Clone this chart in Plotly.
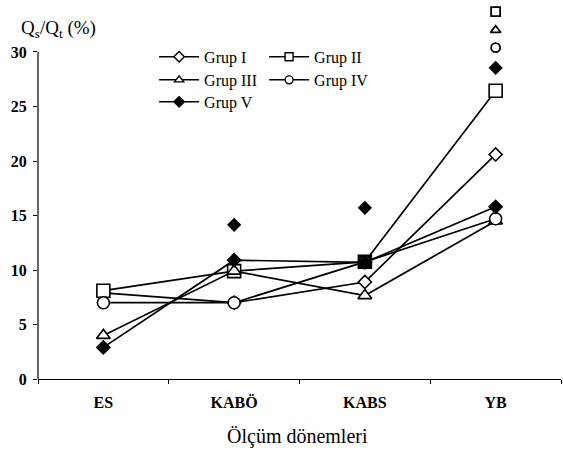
import plotly.graph_objects as go

categories = ["ES", "KABÖ", "KABS", "YB"]
grup_names = ["Grup I", "Grup II", "Grup III", "Grup IV", "Grup V"]
grup1 = [7.9, 7.0, 8.9, 20.6]
grup2 = [8.1, 9.9, 10.75, 26.45]
grup3 = [4.0, 9.9, 7.65, 14.5]
grup4 = [7.0, 7.0, 10.75, 14.7]
grup5 = [2.9, 10.9, 10.7, 15.8]

# separate (unconnected) markers
extra_cats_v = ["KABÖ", "KABS", "YB"]
extra_vals_v = [14.15, 15.7, 28.55]
extra_yb_sq = [33.7]
extra_yb_tri = [32.0]
extra_yb_circ = [30.4]
y_ticks = [0, 5, 10, 15, 20, 25, 30]

FONT = "Liberation Serif"
series = [grup1, grup2, grup3, grup4, grup5]
symbols = ["diamond", "square", "triangle-up", "circle", "diamond"]
sizes = [10, 13, 12, 12, 10]
fills = [["white"] * 4, ["white", "white", "black", "white"], ["white"] * 4, ["white"] * 4, ["black"] * 4]
leg_fill = ["white", "white", "white", "white", "black"]
legends = ["legend", "legend", "legend2", "legend2", "legend3"]

fig = go.Figure()
for i in range(5):
    fig.add_trace(go.Scatter(
        x=categories, y=series[i], name=grup_names[i], mode="lines+markers",
        line=dict(color="black", width=1.7),
        marker=dict(symbol=symbols[i], size=sizes[i], color=fills[i],
                    line=dict(color="black", width=1.6)),
        showlegend=False, cliponaxis=False,
    ))

def extra(xs, ys, sym, size, fill):
    fig.add_trace(go.Scatter(
        x=xs, y=ys, mode="markers", showlegend=False, cliponaxis=False,
        marker=dict(symbol=sym, size=size, color=fill, line=dict(color="black", width=1.8)),
    ))

extra(extra_cats_v, extra_vals_v, "diamond", 9, "black")
extra(["YB"], extra_yb_sq, "square", 9, "white")
extra(["YB"], extra_yb_tri, "triangle-up", 9, "white")
extra(["YB"], extra_yb_circ, "circle", 9, "white")

# legend-only entries (smaller symbols, like the reference key)
for i in range(5):
    fig.add_trace(go.Scatter(
        x=[None], y=[None], name=grup_names[i], mode="lines+markers",
        line=dict(color="black", width=1.5),
        marker=dict(symbol=symbols[i], size=8, color=leg_fill[i],
                    line=dict(color="black", width=1.4)),
        legend=legends[i],
    ))

leg_common = dict(orientation="h", xanchor="left", yanchor="middle",
                  font=dict(family=FONT, size=16, color="black"),
                  bgcolor="rgba(0,0,0,0)", entrywidth=55, itemwidth=40,
                  tracegroupgap=0)

fig.update_layout(
    width=563, height=450,
    margin=dict(l=38, r=2, t=0, b=71),
    paper_bgcolor="white", plot_bgcolor="white",
    font=dict(family=FONT, color="black"),
    legend=dict(x=0.222, y=0.850, **leg_common),
    legend2=dict(x=0.222, y=0.789, **leg_common),
    legend3=dict(x=0.222, y=0.731, **leg_common),
    xaxis=dict(
        type="category", range=[-0.5, 3.5], tickson="boundaries",
        ticks="outside", ticklen=4, tickcolor="black", ticklabelstandoff=9,
        showline=True, linecolor="black", linewidth=1.2,
        showgrid=False, zeroline=False,
        tickfont=dict(family=FONT, size=16, color="black", weight="bold"),
    ),
    yaxis=dict(
        range=[0, 34.77], tickvals=y_ticks,
        ticks="outside", ticklen=4, tickcolor="black", ticklabelstandoff=3,
        showline=False, showgrid=False, zeroline=False,
        tickfont=dict(family=FONT, size=16, color="black", weight="bold"),
    ),
    shapes=[dict(type="line", xref="paper", yref="y", x0=0, x1=0, y0=0, y1=30,
                 line=dict(color="black", width=1.2))],
    annotations=[
        dict(text="Q<sub>s</sub>/Q<sub>t</sub> (%)", xref="paper", yref="paper",
             x=-0.036, y=0.923, xanchor="left", yanchor="middle", showarrow=False,
             font=dict(family=FONT, size=19, color="black")),
        dict(text="Ölçüm dönemleri", xref="paper", yref="paper",
             x=0.497, y=-0.153, xanchor="center", yanchor="middle", showarrow=False,
             font=dict(family=FONT, size=20, color="black")),
    ],
)

fig.write_html("out.html", config={"displayModeBar": False},
               post_script="document.body.style.margin='0';document.body.style.overflow='hidden';")
